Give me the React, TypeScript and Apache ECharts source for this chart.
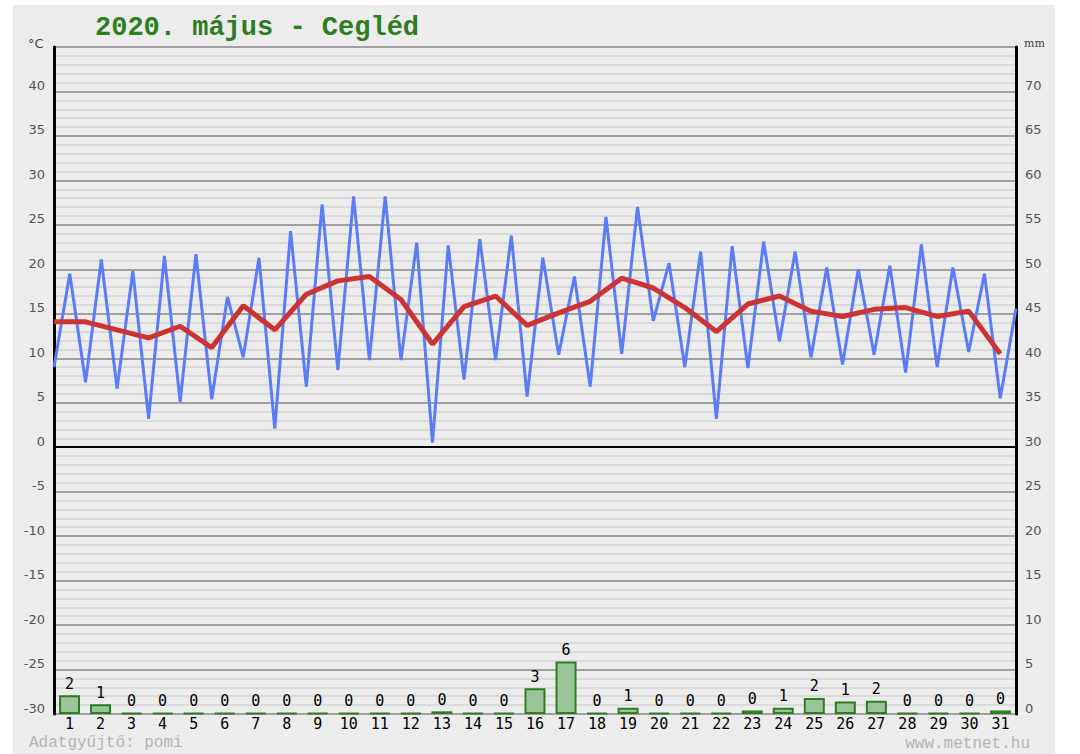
import { useEffect, useRef } from "react";
import * as echarts from "echarts";

const days = Array.from({ length: 31 }, (_, i) => String(i + 1));

const tempMin = [
  9.0, 7.3, 6.6, 3.2, 5.1, 5.4, 10.1, 2.1, 6.8, 8.7, 9.8, 9.8, 0.5, 7.6, 9.8, 5.7,
  10.4, 6.8, 10.5, 14.2, 9.0, 3.2, 8.9, 11.9, 10.1, 9.3, 10.4, 8.4, 9.0, 10.7, 5.5,
];
const tempMax = [
  19.5, 21.1, 19.8, 21.5, 21.7, 16.9, 21.3, 24.3, 27.3, 28.2, 28.2, 23.0, 22.7, 23.4, 23.8, 21.3,
  19.2, 25.9, 27.0, 20.7, 22.0, 22.6, 23.1, 22.0, 20.2, 20.0, 20.4, 22.8, 20.2, 19.5, 15.6,
];
const tempMean = [
  14.1, 14.1, 13.2, 12.3, 13.6, 11.2, 15.9, 13.2, 17.2, 18.7, 19.2, 16.6, 11.6, 15.8, 17.0, 13.7,
  15.1, 16.4, 19.0, 17.9, 15.7, 13.0, 16.1, 17.0, 15.3, 14.7, 15.5, 15.7, 14.7, 15.3, 10.5,
];
const precip = [
  2.1, 1.1, 0, 0, 0, 0, 0, 0, 0, 0, 0, 0, 0.3, 0, 0, 2.9,
  5.9, 0, 0.7, 0, 0, 0, 0.4, 0.7, 1.8, 1.4, 1.5, 0, 0, 0, 0.4,
];

const title = "2020. május - Cegléd";
const footerLeft = "Adatgyűjtő: pomi";
const footerRight = "www.metnet.hu";

export default function App() {
  const ref = useRef<HTMLDivElement>(null);
  useEffect(() => {
    const chart = echarts.init(ref.current!, null, { renderer: "svg" });
    const halfSteps = Array.from({ length: days.length * 2 }, (_, i) => String(i));
    const minMax: number[] = [];
    const meanLine: (number | null)[] = [];
    days.forEach((_, i) => {
      minMax.push(tempMin[i], tempMax[i]);
      meanLine.push(tempMean[i], null);
    });
    const gridLabel = {
      color: "#555",
      fontSize: 13,
      fontFamily: "DejaVu Sans",
      showMaxLabel: false,
      verticalAlign: "bottom",
      lineHeight: 12,
    };
    chart.setOption({
      animation: false,
      backgroundColor: "#ececec",
      grid: { left: 41, right: 39, top: 42, bottom: 40 },
      xAxis: [
        {
          type: "category",
          data: days,
          boundaryGap: true,
          position: "bottom",
          axisLine: { show: false },
          axisTick: { show: false },
          axisLabel: {
            color: "#000",
            fontSize: 15,
            fontFamily: "DejaVu Sans Mono",
            margin: 2,
            lineHeight: 15,
            interval: 0,
          },
          splitLine: { show: false },
        },
        {
          type: "category",
          data: halfSteps,
          boundaryGap: false,
          show: false,
        },
      ],
      yAxis: [
        {
          type: "value",
          min: -30,
          max: 45,
          interval: 5,
          position: "left",
          axisLine: { show: true, lineStyle: { color: "#000", width: 3 } },
          axisTick: { show: false },
          axisLabel: { ...gridLabel, margin: 9 },
          splitLine: { show: true, lineStyle: { color: "#a0a0a0", width: 2 } },
          minorTick: { show: false, splitNumber: 5 },
          minorSplitLine: { show: true, lineStyle: { color: "#dadada", width: 2 } },
        },
        {
          type: "value",
          min: 0,
          max: 75,
          interval: 5,
          position: "right",
          axisLine: { show: true, lineStyle: { color: "#000", width: 3 } },
          axisTick: { show: false },
          axisLabel: { ...gridLabel, margin: 9 },
          splitLine: { show: false },
        },
      ],
      series: [
        {
          type: "bar",
          xAxisIndex: 0,
          yAxisIndex: 1,
          data: precip,
          barWidth: 21,
          barMinHeight: 1,
          itemStyle: { color: "#9cc49a", borderColor: "#2f7d22", borderWidth: 2 },
          label: {
            show: true,
            position: "top",
            distance: 4,
            formatter: (p: any) => String(Math.round(p.value)),
            color: "#000",
            fontSize: 15,
            fontFamily: "DejaVu Sans Mono",
          },
          z: 2,
        },
        {
          type: "line",
          xAxisIndex: 1,
          yAxisIndex: 0,
          data: minMax,
          symbol: "none",
          lineStyle: { color: "#5b7cf7", width: 3 },
          z: 3,
        },
        {
          type: "line",
          xAxisIndex: 1,
          yAxisIndex: 0,
          data: meanLine,
          connectNulls: true,
          symbol: "none",
          lineStyle: { color: "#cc3333", width: 5 },
          z: 4,
          markLine: {
            silent: true,
            symbol: ["none", "none"],
            label: { show: false },
            lineStyle: { color: "#000", width: 2, type: "solid" },
            data: [{ yAxis: 0 }],
          },
        },
      ],
      graphic: [
        {
          type: "text",
          x: 82,
          y: 23,
          style: {
            text: title,
            font: 'bold 27px "Liberation Mono"',
            fill: "#2e7d22",
            verticalAlign: "middle",
          },
        },
        {
          type: "text",
          x: 15,
          y: 38,
          style: { text: "°C", font: '13px "DejaVu Sans"', fill: "#444", verticalAlign: "middle" },
        },
        {
          type: "text",
          x: 1011,
          y: 38,
          style: { text: "mm", font: '11px "DejaVu Serif"', fill: "#444", verticalAlign: "middle" },
        },
        {
          type: "text",
          x: 16,
          y: 738,
          style: { text: footerLeft, font: '16px "Liberation Mono"', fill: "#b4b4b4", verticalAlign: "middle" },
        },
        {
          type: "text",
          x: 1017,
          y: 739,
          style: {
            text: footerRight,
            font: '16px "Liberation Mono"',
            fill: "#b4b4b4",
            align: "right",
            verticalAlign: "middle",
          },
        },
      ],
    });
    return () => chart.dispose();
  }, []);
  return (
    <div style={{ position: "fixed", left: 0, top: 0, width: 1080, height: 754, background: "#fff" }}>
      <div ref={ref} style={{ position: "absolute", left: 13, top: 5, width: 1042, height: 749 }} />
    </div>
  );
}
